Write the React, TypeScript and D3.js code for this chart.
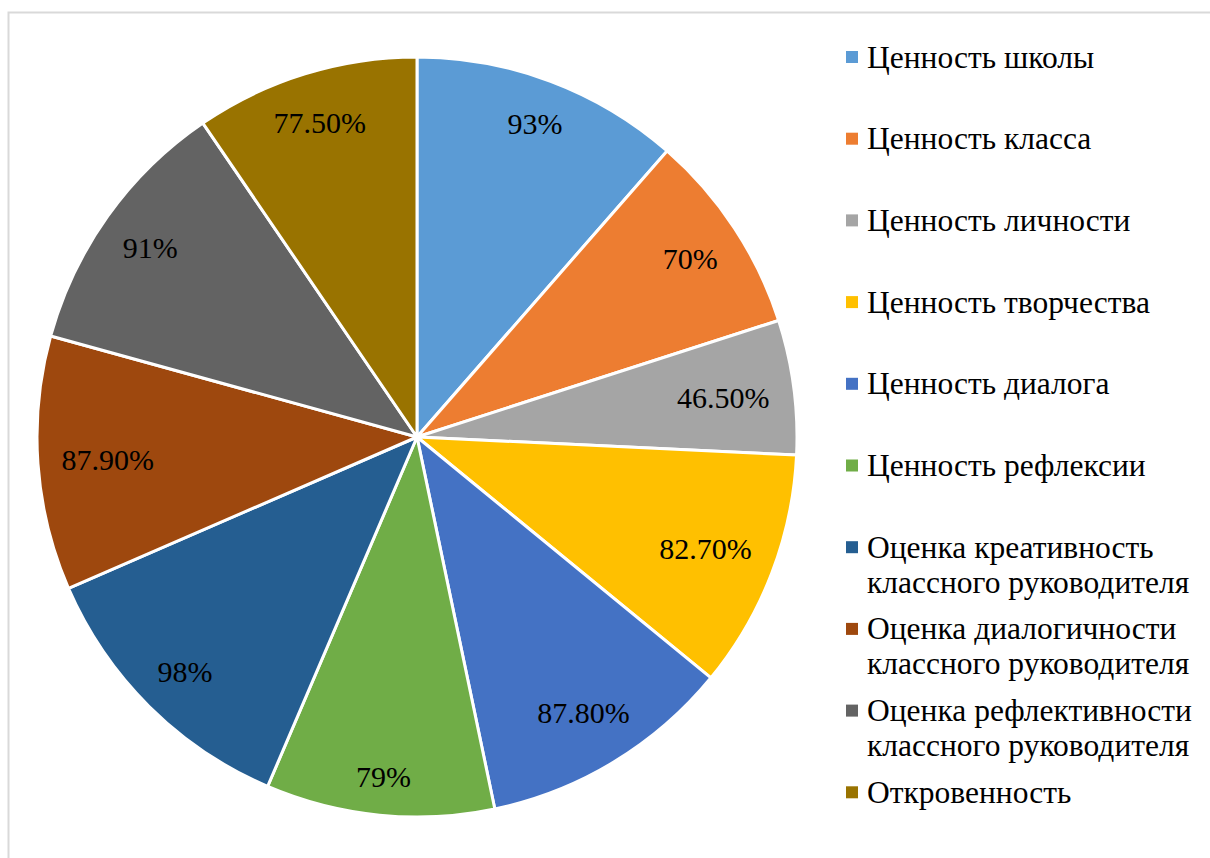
import { useEffect, useRef } from "react";
import * as d3 from "d3";

const categories = [
  "Ценность школы",
  "Ценность класса",
  "Ценность личности",
  "Ценность творчества",
  "Ценность диалога",
  "Ценность рефлексии",
  "Оценка креативность классного руководителя",
  "Оценка диалогичности классного руководителя",
  "Оценка рефлективности классного руководителя",
  "Откровенность",
];
const values = [93, 70, 46.5, 82.7, 87.8, 79, 98, 87.9, 91, 77.5];
const valueLabels = ["93%", "70%", "46.50%", "82.70%", "87.80%", "79%", "98%", "87.90%", "91%", "77.50%"];
// legend entries split onto lines like in the original
const legendLines = [
  ["Ценность школы"],
  ["Ценность класса"],
  ["Ценность личности"],
  ["Ценность творчества"],
  ["Ценность диалога"],
  ["Ценность рефлексии"],
  ["Оценка креативность", "классного руководителя"],
  ["Оценка диалогичности", "классного руководителя"],
  ["Оценка рефлективности", "классного руководителя"],
  ["Откровенность"],
];
const colors = ["#5B9BD5", "#ED7D31", "#A5A5A5", "#FFC000", "#4472C4", "#70AD47", "#255E91", "#9E480E", "#636363", "#997300"];

const W = 1210;
const H = 858;
const FONT = "Liberation Serif, DejaVu Serif, serif";

const App = () => {
  const svgRef = useRef(null);

  useEffect(() => {
    const svg = d3.select(svgRef.current);
    svg.selectAll("*").remove();

    // chart area border
    svg
      .append("rect")
      .attr("x", 8.5)
      .attr("y", 12.5)
      .attr("width", W + 20)
      .attr("height", H + 20)
      .attr("fill", "#fff")
      .attr("stroke", "#d9d9d9")
      .attr("stroke-width", 2);

    const cx = 417;
    const cy = 437;
    const R = 380;

    const pie = d3
      .pie<number>()
      .sort(null)
      .value((d) => d);
    const arcs = pie(values);
    const arc = d3.arc<d3.PieArcDatum<number>>().innerRadius(0).outerRadius(R);

    const g = svg.append("g").attr("transform", `translate(${cx},${cy})`);

    g.selectAll("path")
      .data(arcs)
      .join("path")
      .attr("d", arc)
      .attr("fill", (d, i) => colors[i])
      .attr("stroke", "#fff")
      .attr("stroke-width", 3)
      .attr("stroke-linejoin", "round");

    // data labels, pulled inward until the text box fits in the slice
    const labels = g
      .selectAll("text.lbl")
      .data(arcs)
      .join("text")
      .attr("class", "lbl")
      .attr("text-anchor", "middle")
      .attr("dominant-baseline", "central")
      .style("font-family", FONT)
      .style("font-size", "30px")
      .attr("fill", "#000")
      .text((d, i) => valueLabels[i]);

    labels.each(function (d) {
      const node = this as SVGTextElement;
      const w = node.getComputedTextLength() / 2;
      const h = 11;
      const a = (d.startAngle + d.endAngle) / 2;
      let r = 340;
      const fits = (rr: number) => {
        const x = rr * Math.sin(a);
        const y = -rr * Math.cos(a);
        const far = Math.hypot(Math.abs(x) + w, Math.abs(y) + h);
        return far <= 357;
      };
      while (r > 200 && !fits(r)) r -= 1;
      d3.select(node)
        .attr("x", r * Math.sin(a))
        .attr("y", -r * Math.cos(a) + 1);
    });

    // legend
    const step = 81.7;
    const lg = svg
      .selectAll("g.leg")
      .data(categories)
      .join("g")
      .attr("class", "leg")
      .attr("transform", (d, i) => `translate(846,${57 + i * step})`);

    lg.append("rect")
      .attr("x", 0)
      .attr("y", -6)
      .attr("width", 12)
      .attr("height", 12)
      .attr("fill", (d, i) => colors[i]);

    lg.each(function (d, i) {
      const t = d3
        .select(this)
        .append("text")
        .style("font-family", FONT)
        .style("font-size", "31.5px")
        .attr("fill", "#000");
      legendLines[i].forEach((line, j) => {
        t.append("tspan")
          .attr("x", 21)
          .attr("y", j * 35)
          .attr("dominant-baseline", "central")
          .text(line);
      });
    });
  }, []);

  return (
    <svg
      ref={svgRef}
      width={W}
      height={H}
      style={{ position: "absolute", left: 0, top: 0, background: "#fff" }}
    ></svg>
  );
};

export default App;
